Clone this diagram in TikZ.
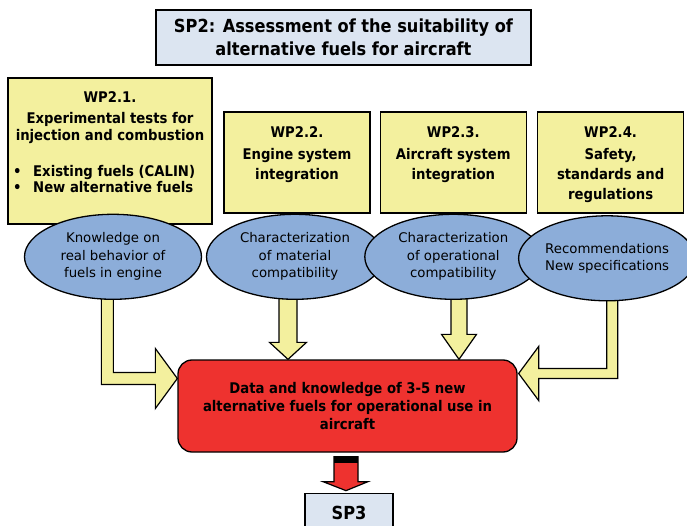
\documentclass[tikz,border=0pt]{standalone}
\usepackage{fontspec}
\setmainfont{DejaVu Sans}[BoldFont={DejaVu Sans Condensed Bold}]
\usetikzlibrary{positioning, shapes.geometric, backgrounds, calc}

\definecolor{wpyellow}{RGB}{243,240,158}
\definecolor{spblue}{RGB}{220,229,241}
\definecolor{outblue}{RGB}{140,173,217}
\definecolor{resultred}{RGB}{238,50,47}

\begin{document}
\begin{tikzpicture}[
        x=1pt, y=-1pt,
        spbox/.style={draw, line width=1.3pt, fill=spblue, align=center, font=\bfseries\fontsize{18}{23}\selectfont},
        wpbox/.style={draw, line width=1.3pt, fill=wpyellow, minimum width=146pt, minimum height=101pt, inner sep=0pt},
        wptext/.style={inner sep=0pt, align=center, font=\bfseries\fontsize{14.7}{20}\selectfont},
        outcome/.style={draw, line width=1.3pt, ellipse, fill=outblue, minimum width=177pt, minimum height=85pt, inner sep=0pt, align=center, font=\fontsize{13.3}{17.5}\selectfont},
        result/.style={draw, line width=1.3pt, rounded corners=14pt, fill=resultred, minimum width=339pt, minimum height=92pt, align=center, font=\bfseries\fontsize{14.7}{18}\selectfont},
        fatarrow/.style={draw, line width=1.2pt, fill=wpyellow, line join=miter}
    ]
    \useasboundingbox (0,0) rectangle (687,526);

    \node[spbox, minimum width=375pt, minimum height=55pt] (SP2) at (343.5,37.5) {SP2: Assessment of the suitability of\\alternative fuels for aircraft};

    % work packages
    \node[wpbox, minimum width=204pt, minimum height=146pt] (WP1) at (110,151) {};
    \node[wpbox] (WP2) at (297,162.5) {};
    \node[wpbox, right=9pt of WP2] (WP3) {};
    \node[wpbox, right=10pt of WP3] (WP4) {};

    \node[wptext, font=\bfseries\fontsize{14.7}{17}\selectfont, below=14.5pt of WP1.north] (WP1title) {WP2.1.\\[4pt]Experimental tests for\\injection and combustion};
    \node[wptext, align=left, anchor=north west, font=\bfseries\fontsize{14.7}{16}\selectfont] (WP1list) at (13,165) {\makebox[20pt][l]{•}Existing fuels (CALIN)\\\makebox[20pt][l]{•}New alternative fuels};
    \node[wptext, below=15pt of WP2.north] (WP2title) {WP2.2.\\[2pt]Engine system\\integration};
    \node[wptext, below=15pt of WP3.north] (WP3title) {WP2.3.\\[2pt]Aircraft system\\integration};
    \node[wptext, below=15pt of WP4.north] (WP4title) {WP2.4.\\[2pt]Safety,\\standards and\\regulations};

    % outcomes
    \node[outcome, below=-11pt of WP1, xshift=3pt] (Know) {Knowledge on\\real behavior of\\fuels in engine};
    \node[outcome, below=0pt of WP2, xshift=-2pt] (Material) {Characterization\\of material\\compatibility};
    \node[outcome, below=0pt of WP3] (Operational) {Characterization\\of operational\\compatibility};
    \node[outcome, below=1.5pt of WP4, xshift=-3.5pt] (Recommend) {Recommendations\\New specifications};

    \node[result] (Data) at (347.5,406) {Data and knowledge of 3-5 new\\alternative fuels for operational use in\\aircraft};
    \node[spbox, minimum width=88pt, minimum height=40pt, below=40pt of Data, xshift=1.5pt] (SP3) {SP3};

    \coordinate (TipKnow) at ($(Data.west)+(0,-27.5)$);
    \coordinate (TipMaterial) at ($(Data.north)+(-59.5,0)$);
    \coordinate (TipOperational) at ($(Data.north)+(111.5,0)$);
    \coordinate (TipRecommend) at ($(Data.east)+(1,-32.5)$);
    \coordinate (TipSP3) at ($(SP3.north)+(-3,-2)$);

    \begin{scope}[on background layer]
    \draw[fatarrow] (TipKnow) -- ++(-22,-30) -- ++(0,24) -- ++(-42,0) -- ++(0,-83) -- ++(-12,0) -- ++(0,95) -- ++(54,0) -- ++(0,24) -- cycle;
    \draw[fatarrow] (TipMaterial) -- ++(-18.5,-17) -- ++(9.5,0) -- ++(0,-50) -- ++(18,0) -- ++(0,50) -- ++(9.5,0) -- cycle;
    \draw[fatarrow] (TipOperational) -- ++(-17.5,-25) -- ++(9.5,0) -- ++(0,-42) -- ++(16,0) -- ++(0,42) -- ++(9.5,0) -- cycle;
    \draw[fatarrow] (TipRecommend) -- ++(20,-27) -- ++(0,22) -- ++(68,0) -- ++(0,-75) -- ++(11,0) -- ++(0,85) -- ++(-79,0) -- ++(0,22) -- cycle;
    \end{scope}
    \draw[fatarrow, fill=resultred] (TipSP3) -- ++(-23,-9) -- ++(11,0) -- ++(0,-25) -- ++(24,0) -- ++(0,25) -- ++(10,0) -- cycle;
    \fill ($(TipSP3)+(-12,-34)$) rectangle ++(24,6);

\end{tikzpicture}
\end{document}
